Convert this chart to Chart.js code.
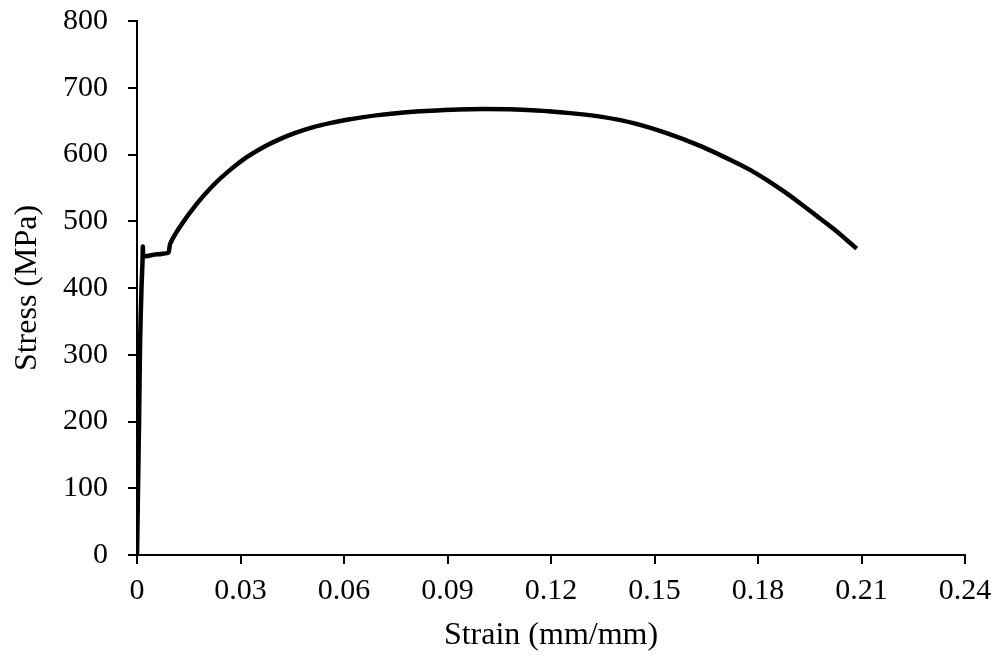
<!DOCTYPE html>
<html lang="en">
<head>
  <meta charset="UTF-8">
  <title>Stress-Strain Curve</title>
  <style>
    body {
      margin: 0;
      padding: 0;
      background-color: #fff;
    }

    .chart-container {
      width: 1002px;
      height: 655px;
    }
  </style>
  <script src="https://cdn.jsdelivr.net/npm/chart.js"></script>
</head>
<body>
  <div class="chart-container">
    <canvas id="stress-strain-chart" width="1002" height="655"></canvas>
  </div>

  <script>
    // values
    const strain = [0, 0.0003, 0.0006, 0.0009, 0.0013, 0.0016, 0.0017, 0.0019, 0.003, 0.005, 0.007, 0.0091,
      0.0096, 0.0125, 0.0173, 0.0221, 0.027, 0.0318, 0.0366, 0.0414, 0.0463, 0.0511, 0.0559, 0.0608,
      0.0656, 0.0699, 0.0772, 0.0869, 0.1004, 0.1159, 0.1255, 0.1352, 0.1439, 0.1535, 0.1632, 0.1728,
      0.1777, 0.1825, 0.1874, 0.1922, 0.197, 0.2018, 0.2057, 0.2086];
    const stress = [0, 100, 200, 320, 400, 440, 462, 448, 448, 450, 451, 453,
      466, 492, 526, 554, 577, 596, 611, 623, 633, 641, 647, 652,
      656, 659, 663, 666, 668, 666, 662, 656, 647, 632, 613, 590,
      577, 562, 545, 527, 508, 489, 472, 459];
    const xTicks = [0, 0.03, 0.06, 0.09, 0.12, 0.15, 0.18, 0.21, 0.24];

    const points = strain.map(function (s, i) {
      return { x: s, y: stress[i] };
    });

    const tickFont = { family: "'Liberation Serif', 'Times New Roman', serif", size: 30 };
    const titleFont = { family: "'Liberation Serif', 'Times New Roman', serif", size: 32 };

    Chart.defaults.color = '#000';

    new Chart(document.getElementById('stress-strain-chart').getContext('2d'), {
      type: 'scatter',
      data: {
        datasets: [{
          data: points,
          showLine: true,
          borderColor: '#000',
          borderWidth: 4.5,
          pointRadius: 0,
          tension: 0.2,
        }],
      },
      options: {
        responsive: false,
        animation: false,
        layout: {
          padding: { left: 0, top: 21, right: 37, bottom: 0 },
        },
        plugins: {
          legend: { display: false },
          tooltip: { enabled: false },
        },
        scales: {
          x: {
            type: 'linear',
            min: 0,
            max: 0.24,
            afterBuildTicks: function (scale) {
              scale.ticks = xTicks.map(function (v) { return { value: v }; });
            },
            afterFit: function (scale) {
              scale.height = 100;
            },
            ticks: {
              font: tickFont,
              padding: 9,
              maxRotation: 0,
              callback: function (v) { return String(+v.toFixed(2)); },
            },
            grid: { drawOnChartArea: false, drawTicks: true, tickLength: 9, color: '#000', lineWidth: 2 },
            border: { color: '#000', width: 2 },
            title: { display: true, text: 'Strain (mm/mm)', font: titleFont, padding: { top: 3, bottom: 0 } },
          },
          y: {
            min: 0,
            max: 800,
            afterFit: function (scale) {
              scale.width = 137;
              scale.paddingTop = 0;
              scale.paddingBottom = 0;
            },
            ticks: { font: tickFont, stepSize: 100, padding: 20 },
            grid: { drawOnChartArea: false, drawTicks: true, tickLength: 9, color: '#000', lineWidth: 2 },
            border: { color: '#000', width: 2 },
            title: { display: true, text: 'Stress (MPa)', font: titleFont, padding: { top: 8, bottom: 0 } },
          },
        },
      },
    });
  </script>
</body>
</html>
